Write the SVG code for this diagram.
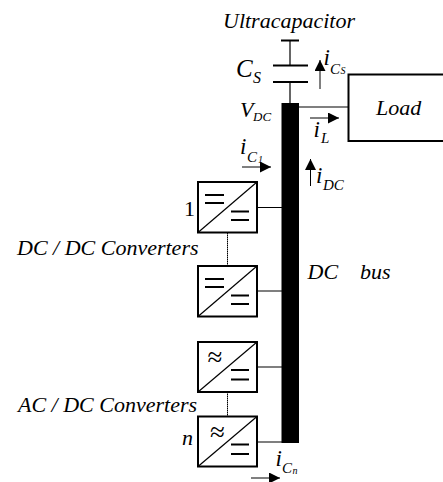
<svg xmlns="http://www.w3.org/2000/svg" width="443" height="482" viewBox="0 0 443 482">
<style>
text{font-family:"Liberation Serif","Times New Roman",serif;font-style:italic;fill:#000}
.l{font-size:22px}.s{font-size:15px}.t{font-size:10px}.b{font-size:23px}
.box{fill:#fff;stroke:#000;stroke-width:2}
.w{stroke:#000;stroke-width:1.2;fill:none}
.p{stroke:#000;stroke-width:2;fill:none}
.a{stroke:#000;stroke-width:1;fill:none;marker-end:url(#ah)}
.ap{font-style:normal;font-size:27px}
</style>
<defs>
<marker id="ah" markerUnits="userSpaceOnUse" markerWidth="12" markerHeight="12" refX="11" refY="5.5" orient="auto"><path d="M0 0L11 5.500L0 11z" fill="#000"/></marker>
<g id="dcdc"><rect class="box" x="198" y="0" width="59" height="50.500"/><path class="w" d="M198 50.500L257 0"/><path class="p" d="M205 13h19M205 21h19M231 29.500h18M231 38h18"/></g>
<g id="acdc"><rect class="box" x="198" y="0" width="59" height="50"/><path class="w" d="M198 50L257 0"/><path class="p" d="M231 28h18M231 37.500h18"/></g>
</defs>
<g id="connectors">
<path class="w" d="M290 40V65M290 82V103M299 107H348M257 207.500H282M257 291H282M257 367H282M257 442H282"/>
<path stroke="#000" stroke-width="1" stroke-dasharray="1.500 0.500" fill="none" d="M227.500 233V266M227.500 392V417"/>
</g>
<g id="ultracapacitor"><path class="p" d="M281 40.500H299M273 65.500H308M273 82H308"/><text x="223" y="28" class="l">Ultracapacitor</text></g>
<g id="cs"><text x="236" y="77" style="font-size:25px">C</text><text x="253" y="83" style="font-size:16px">S</text></g>
<g id="vdc"><text x="240" y="117" class="l">V</text><text x="253" y="120.500" style="font-size:13px">DC</text></g>
<g id="bus"><rect x="281.500" y="103" width="17.500" height="340" fill="#000"/><text x="307.500" y="279" class="l">DC</text><text x="360" y="279" class="l">bus</text></g>
<g id="load"><rect x="348.500" y="74.500" width="100" height="66.500" fill="#fff" stroke="#000" stroke-width="2"/><text x="376" y="115" class="l">Load</text></g>
<g id="ics"><text x="323.500" y="65" class="b">i</text><text x="330" y="74" class="s">C</text><text x="340.500" y="74" class="t">S</text></g>
<g id="il"><text x="313.500" y="136.500" class="b">i</text><text x="321" y="142.500" class="s">L</text></g>
<g id="idc"><text x="316" y="183" class="b">i</text><text x="323" y="190" class="s">DC</text></g>
<g id="ic1"><text x="240" y="154" class="b">i</text><text x="247" y="162" class="s">C</text><text x="258" y="163" class="t">1</text></g>
<g id="icn"><text x="275.500" y="466" class="b">i</text><text x="282" y="472.500" class="s">C</text><text x="292.500" y="474" class="t">n</text></g>
<g id="arrows">
<path class="a" d="M320 89V60"/><path class="a" d="M310 118H339"/><path class="a" d="M310.500 186V159"/><path class="a" d="M242 167H271"/><path class="a" d="M251 478H280"/>
</g>
<g id="conv1"><use href="#dcdc" y="182"/><text x="184" y="216" class="l" style="font-style:normal">1</text></g>
<g id="conv2"><use href="#dcdc" y="266"/></g>
<g id="conv3"><use href="#acdc" y="342"/><text x="207.500" y="366" class="ap">≈</text></g>
<g id="conv4"><use href="#acdc" y="416.500"/><text x="210" y="441" class="ap">≈</text><text x="182" y="445" class="l">n</text></g>
<text x="17" y="255" class="l">DC / DC Converters</text>
<text x="18" y="412" class="l">AC / DC Converters</text>
</svg>
